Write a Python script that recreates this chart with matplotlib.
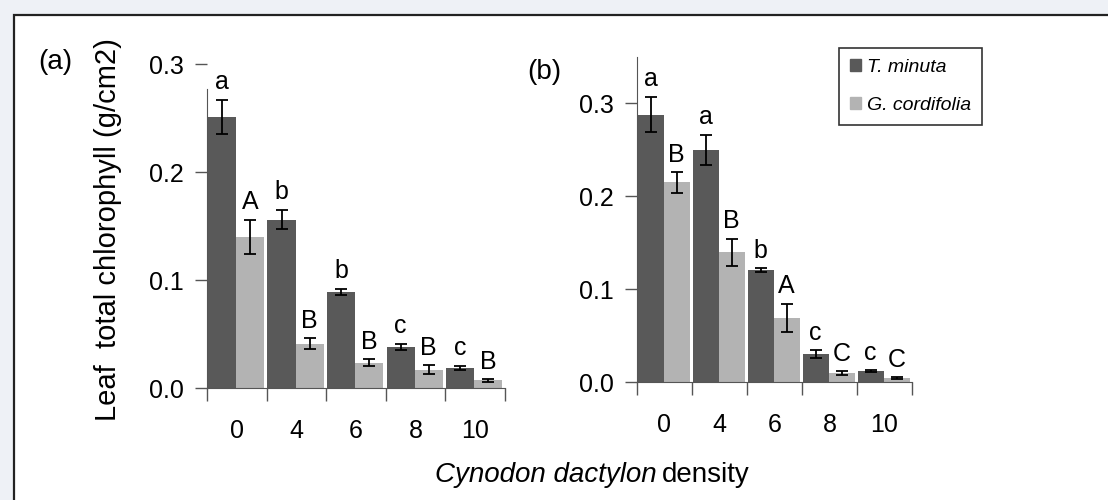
import numpy as np
import matplotlib
matplotlib.use('Agg')
import matplotlib.pyplot as plt
from matplotlib.patches import Rectangle, Patch

plt.rcParams['font.family'] = ['Liberation Sans', 'DejaVu Sans']

# Daten
densities = ['0', '4', '6', '8', '10']
series_names = ['T. minuta', 'G. cordifolia']

a_minuta = [0.251, 0.156, 0.089, 0.038, 0.0185]
a_minuta_err = [0.016, 0.009, 0.003, 0.003, 0.002]
a_cordifolia = [0.140, 0.041, 0.0235, 0.017, 0.007]
a_cordifolia_err = [0.016, 0.005, 0.003, 0.004, 0.001]
a_minuta_letters = ['a', 'b', 'b', 'c', 'c']
a_cordifolia_letters = ['A', 'B', 'B', 'B', 'B']

b_minuta = [0.288, 0.250, 0.1205, 0.030, 0.0114]
b_minuta_err = [0.019, 0.016, 0.002, 0.004, 0.001]
b_cordifolia = [0.215, 0.1395, 0.069, 0.0096, 0.0043]
b_cordifolia_err = [0.011, 0.015, 0.015, 0.002, 0.001]
b_minuta_letters = ['a', 'a', 'b', 'c', 'c']
b_cordifolia_letters = ['B', 'B', 'A', 'C', 'C']

dark = '#595959'
light = '#b3b3b3'
fs = 18

fig = plt.figure(figsize=(11.08, 5.0), dpi=100)
fig.patch.set_facecolor('#eef1f6')
fig.patches.append(Rectangle((14 / 1108, -0.2), 1.2, 1.2 - 15 / 500,
                             transform=fig.transFigure, facecolor='white',
                             edgecolor='#222222', lw=1.6, zorder=-10))


def panel(ax, tm, tm_err, gc, gc_err, tm_lab, gc_lab, ymax):
    x = np.arange(len(densities))
    w = 0.47
    ekw = dict(ecolor='black', elinewidth=1.3, capsize=4, capthick=1.3)
    ax.bar(x - 0.25, tm, w, yerr=tm_err, color=dark, error_kw=ekw)
    ax.bar(x + 0.22, gc, w, yerr=gc_err, color=light, error_kw=ekw)
    for xi, v, e, t in zip(x - 0.25, tm, tm_err, tm_lab):
        ax.annotate(t, (xi, v + e), xytext=(0, 4), textcoords='offset points',
                    ha='center', va='bottom', fontsize=fs)
    for xi, v, e, t in zip(x + 0.22, gc, gc_err, gc_lab):
        ax.annotate(t, (xi, v + e), xytext=(0, 4), textcoords='offset points',
                    ha='center', va='bottom', fontsize=fs)
    ax.set_xlim(-0.5, len(densities) - 0.5)
    ax.set_ylim(0, ymax)
    ax.set_yticks([0, 0.1, 0.2, 0.3])
    ax.set_yticklabels(['0.0', '0.1', '0.2', '0.3'])
    ax.set_xticks(np.arange(len(densities) + 1) - 0.5)
    ax.set_xticklabels([])
    ax.set_xticks(x, minor=True)
    ax.set_xticklabels(densities, minor=True)
    ax.tick_params(axis='x', which='minor', length=0, pad=22, labelsize=fs)
    ax.tick_params(axis='x', which='major', length=9, width=1, color='#555555')
    ax.tick_params(axis='y', length=9, width=1, color='#555555', pad=8,
                   labelsize=fs)
    for s in ['top', 'right']:
        ax.spines[s].set_visible(False)
    for s in ['left', 'bottom']:
        ax.spines[s].set_color('#555555')
    ax.set_facecolor('none')


ax1 = fig.add_axes([207 / 1108, 112 / 500, 298 / 1108, 324 / 500])
panel(ax1, a_minuta, a_minuta_err, a_cordifolia, a_cordifolia_err,
      a_minuta_letters, a_cordifolia_letters, 0.3)
ax1.spines['left'].set_bounds(0, 0.277)
ax1.set_ylabel('Leaf  total chlorophyll (g/cm2)', fontsize=21)
ax1.yaxis.set_label_coords(-0.285, 0.488)

ax2 = fig.add_axes([637 / 1108, 118 / 500, 275 / 1108, 325 / 500])
panel(ax2, b_minuta, b_minuta_err, b_cordifolia, b_cordifolia_err,
      b_minuta_letters, b_cordifolia_letters, 0.35)

handles = [Patch(color=dark), Patch(color=light)]
leg = fig.legend(handles, series_names, loc='upper left',
                 bbox_to_anchor=(839 / 1108, 1 - 48 / 500), borderaxespad=0,
                 prop={'style': 'italic', 'size': 14},
                 handlelength=0.6, handleheight=0.6, handletextpad=0.3,
                 labelspacing=1.1, borderpad=0.55, fancybox=False)
leg.get_frame().set_edgecolor('black')
leg.get_frame().set_linewidth(1.2)

fig.text(55 / 1108, 1 - 62 / 500, '(a)', fontsize=20, ha='center', va='center')
fig.text(544 / 1108, 1 - 72 / 500, '(b)', fontsize=20, ha='center', va='center')

fig.text(657 / 1108, 1 - 475 / 500, 'Cynodon dactylon', fontsize=20,
         style='italic', ha='right', va='center')
fig.text(662 / 1108, 1 - 475 / 500, 'density', fontsize=20,
         ha='left', va='center')

fig.savefig('out.png', dpi=100, facecolor=fig.get_facecolor())
